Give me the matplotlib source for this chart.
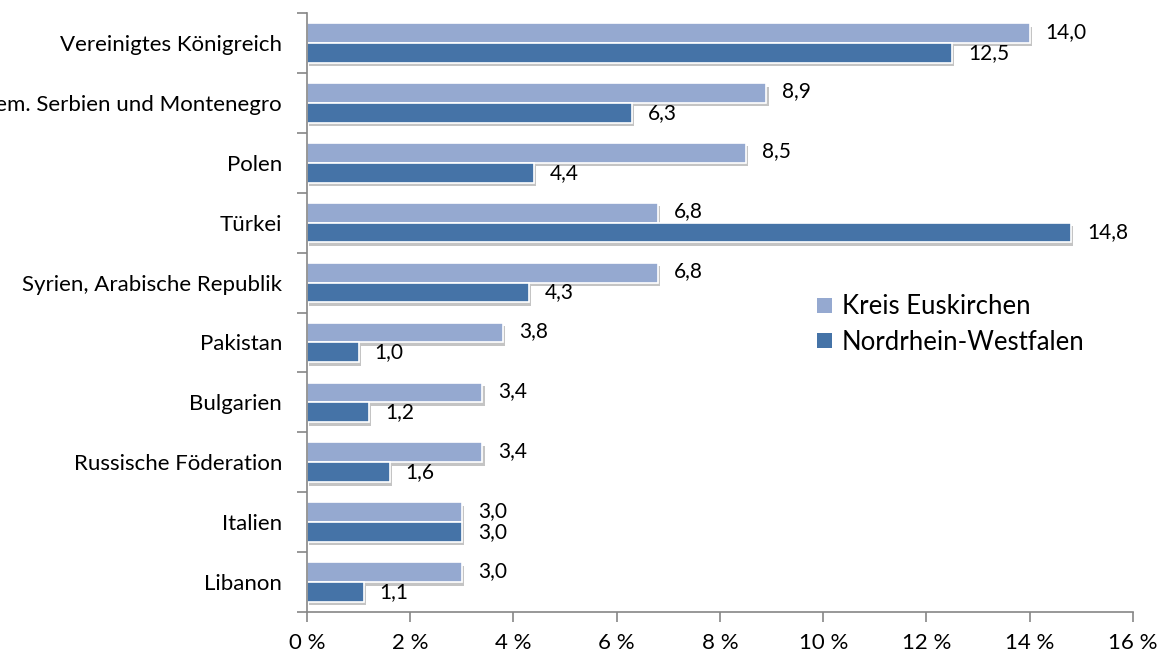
import matplotlib.pyplot as plt
import matplotlib.patheffects as pe
from matplotlib.patches import Patch
import numpy as np

plt.rcParams['font.family'] = ['Lato', 'DejaVu Sans']

laender = ['Vereinigtes Königreich', 'ehem. Serbien und Montenegro', 'Polen', 'Türkei',
           'Syrien, Arabische Republik', 'Pakistan', 'Bulgarien', 'Russische Föderation',
           'Italien', 'Libanon']
euskirchen = [14.0, 8.9, 8.5, 6.8, 6.8, 3.8, 3.4, 3.4, 3.0, 3.0]
nrw = [12.5, 6.3, 4.4, 14.8, 4.3, 1.0, 1.2, 1.6, 3.0, 1.1]
serien = ['Kreis Euskirchen', 'Nordrhein-Westfalen']
farben = ['#95A9D0', '#4573A7']
xticks = [0, 2, 4, 6, 8, 10, 12, 14, 16]

fig = plt.figure(figsize=(11.68, 6.55), dpi=100)
ax = fig.add_axes([0.2628, 0.0656, 0.7072, 0.9146])

y = np.arange(len(laender))
h = 0.33
shadow = [pe.SimplePatchShadow(offset=(1.5, -2.5), shadow_rgbFace='#8a8a8a', alpha=0.5), pe.Normal()]
ax.barh(y - h / 2, euskirchen, height=h, color=farben[0], edgecolor='white', linewidth=1.2,
        path_effects=shadow)
ax.barh(y + h / 2, nrw, height=h, color=farben[1], edgecolor='white', linewidth=1.2,
        path_effects=shadow)

for i in range(len(laender)):
    ax.annotate(f'{euskirchen[i]:.1f}'.replace('.', ','), (euskirchen[i], y[i] - h / 2),
                xytext=(11.5, 1), textcoords='offset points', va='center', fontsize=15)
    ax.annotate(f'{nrw[i]:.1f}'.replace('.', ','), (nrw[i], y[i] + h / 2),
                xytext=(11.5, 0), textcoords='offset points', va='center', fontsize=15)

ax.set_xlim(0, 16)
ax.set_ylim(len(laender) - 0.5, -0.5)
ax.set_xticks(xticks)
ax.set_xticklabels([f'{t} %' for t in xticks], fontsize=16)
ax.set_yticks(y)
ax.set_yticklabels(laender, fontsize=16)
ax.set_yticks(np.arange(len(laender) + 1) - 0.5, minor=True)
ax.tick_params(axis='y', which='major', length=0, pad=18)
ax.tick_params(axis='y', which='minor', length=7, color='#868686', width=1.2)
ax.tick_params(axis='x', length=7, color='#868686', width=1.2, pad=8)
for s in ['top', 'right']:
    ax.spines[s].set_visible(False)
for s in ['left', 'bottom']:
    ax.spines[s].set_color('#868686')
    ax.spines[s].set_linewidth(1.2)

handles = [Patch(facecolor=f, edgecolor='none') for f in farben]
ax.legend(handles, serien, loc='center left', bbox_to_anchor=(0.59, 0.48), frameon=False,
          fontsize=18.5, handlelength=0.55, handleheight=0.55, handletextpad=0.4, labelspacing=0.4)

fig.savefig('out.png', dpi=100)
